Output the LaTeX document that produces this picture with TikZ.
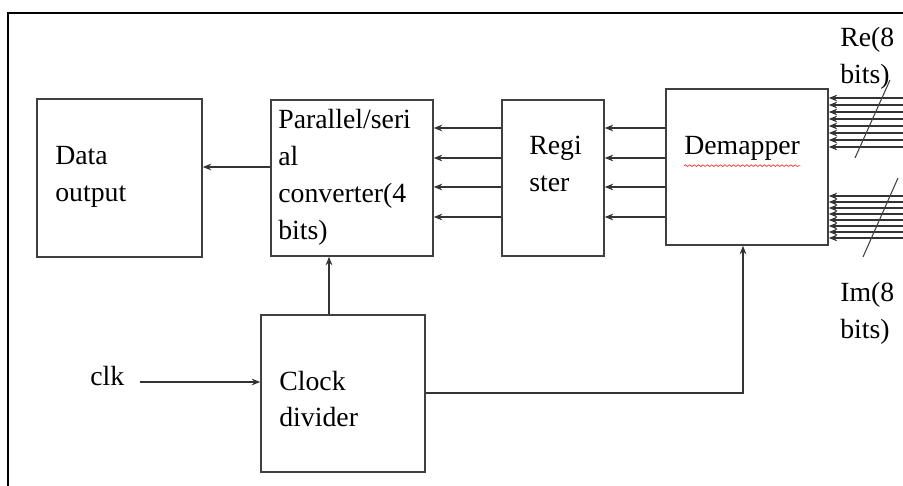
\documentclass[tikz,border=0pt]{standalone}
\usepackage{fontspec}
\setmainfont{Liberation Serif}
\usetikzlibrary{arrows.meta,decorations.pathmorphing}
\tikzset{
  blk/.style={draw=black!75,line width=0.9pt,inner sep=0pt},
  txt/.style={text width=4cm,align=left,anchor=base west,inner sep=0pt,
    font=\fontsize{15.8pt}{21pt}\selectfont},
  lbl/.style={anchor=base west,inner sep=0pt,font=\fontsize{15.8pt}{21pt}\selectfont},
  arr/.style={draw=black!80,line width=0.75pt,-{Stealth[length=4.8pt,width=3.8pt]}},
}
\begin{document}
\begin{tikzpicture}[x=0.02cm,y=-0.02cm]
\useasboundingbox (0,0) rectangle (903,486);
\draw[line width=1.1pt] (8,486) -- (8,13) -- (903,13);
% blocks
\node[blk,minimum width=3.3cm,minimum height=3.16cm] (dout) at (119.5,178) {};
\node[blk,minimum width=3.24cm,minimum height=3.12cm] (ps) at (352,178) {};
\node[blk,minimum width=2.04cm,minimum height=3.12cm] (reg) at (553,178) {};
\node[blk,minimum width=3.24cm,minimum height=3.12cm] (dem) at (747,167) {};
\node[blk,minimum width=3.28cm,minimum height=3.14cm] (clkdiv) at (343,393.5) {};
% texts
\node[txt] (doutT) at (55,165) {Data\\output};
\node[txt] (psT) at (278,129) {Parallel/seri\\al\\converter(4\\bits)};
\node[txt] (regT) at (529,155) {Regi\\ster};
\node[lbl] (demT) at (684,155) {Demapper};
\draw[red!80,line width=0.4pt,decorate,decoration={snake,amplitude=0.5pt,segment length=2.5pt}]
  ([yshift=-2.5pt]demT.south west) -- ([yshift=-2.5pt]demT.south east);
\node[txt] (clkT) at (279,390) {Clock\\divider};
\node[lbl] (clk) at (90,385) {clk};
\node[txt] (reLbl) at (840,47) {Re(8\\bits)};
\node[txt] (imLbl) at (840,302) {Im(8\\bits)};
% connectors
\draw[arr] ([yshift=0.22cm]ps.west) -- ([yshift=0.22cm]dout.east);
\foreach \y in {128,158,187,217} {
  \draw[arr] (reg.west |- 0,\y) -- (ps.east |- 0,\y);
  \draw[arr] (dem.west |- 0,\y) -- (reg.east |- 0,\y);
}
\foreach \i in {0,...,7} {
  \draw[arr] (903,98+7*\i) -- (dem.east |- 0,98+7*\i);
  \draw[arr] (903,196+6*\i) -- (dem.east |- 0,196+6*\i);
}
\draw[black!75,line width=0.6pt] (890,80) -- (855,158);
\draw[black!75,line width=0.6pt] (898,178) -- (863,257);
\draw[arr] (clkdiv.north -| 329,0) -- (ps.south -| 329,0);
\draw[arr] (clkdiv.east |- 0,393) -| (dem.south -| 743,0);
\draw[arr] (clk.east |- 0,382) ++(15,0) -- (clkdiv.west |- 0,382);
\end{tikzpicture}
\end{document}
